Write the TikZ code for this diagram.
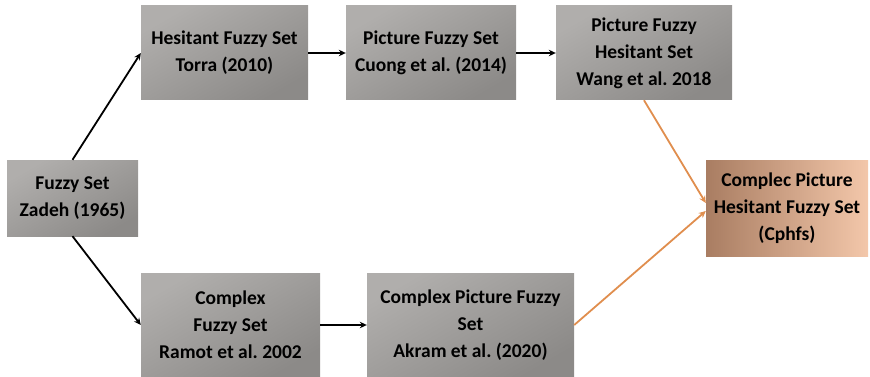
\documentclass[tikz,border=0pt]{standalone}
\usepackage{fontspec}
\setmainfont{Carlito}
\usetikzlibrary{arrows.meta}
\frenchspacing
\definecolor{boxlight}{HTML}{B0AEAC}
\definecolor{boxdark}{HTML}{8C8A88}
\definecolor{cphleft}{HTML}{A97D62}
\definecolor{cphright}{HTML}{F3C7AA}
\definecolor{orangeline}{HTML}{E08E4E}
\tikzset{
  graybox/.style={inner sep=2pt, align=center, font=\bfseries\fontsize{19.5}{27}\selectfont,
    top color=boxlight, bottom color=boxdark, shading angle=30, draw=none},
  cphbox/.style={inner sep=2pt, align=center, font=\bfseries\fontsize{19.5}{27}\selectfont,
    left color=cphleft, right color=cphright, draw=none},
  blackarrow/.style={-{Stealth[length=7pt,width=6.5pt]}, line width=1.8pt, black},
  orangearrow/.style={-{Stealth[length=7pt,width=6.5pt]}, line width=1.8pt, orangeline},
}
\begin{document}
\begin{tikzpicture}[x=1pt,y=-1pt]
\useasboundingbox (0,0) rectangle (870,377);
\node[graybox, minimum width=131pt, minimum height=76pt] (fs) at (72.5,198) {Fuzzy Set\\Zadeh (1965)};
\node[graybox, minimum width=167pt, minimum height=94pt] (hfs) at (224.5,53) {Hesitant Fuzzy Set\\Torra (2010)};
\node[graybox, minimum width=170pt, minimum height=94pt] (pfs) at (431,53) {Picture Fuzzy Set\\Cuong et al. (2014)};
\node[graybox, minimum width=176pt, minimum height=94pt] (pfhs) at (644,53) {Picture Fuzzy\\Hesitant Set\\Wang et al. 2018};
\node[cphbox, minimum width=162pt, minimum height=96pt] (cph) at (787,208) {Complec Picture\\Hesitant Fuzzy Set\\(Cphfs)};
\node[graybox, minimum width=179pt, minimum height=104pt] (cfs) at (230.5,325) {Complex\\Fuzzy Set\\Ramot et al. 2002};
\node[graybox, minimum width=207pt, minimum height=104pt] (cpfs) at (470.5,325) {Complex Picture Fuzzy\\Set\\Akram et al. (2020)};
\draw[blackarrow] (fs.north) -- (hfs.west);
\draw[blackarrow] (fs.south) -- (cfs.west);
\draw[blackarrow] (hfs.east) -- (pfs.west);
\draw[blackarrow] (pfs.east) -- (pfhs.west);
\draw[blackarrow] (cfs.east) -- (cpfs.west);
\draw[orangearrow] (pfhs.south) -- ([yshift=5pt]cph.west);
\draw[orangearrow] (cpfs.east) -- ([yshift=-3pt]cph.west);
\end{tikzpicture}
\end{document}
